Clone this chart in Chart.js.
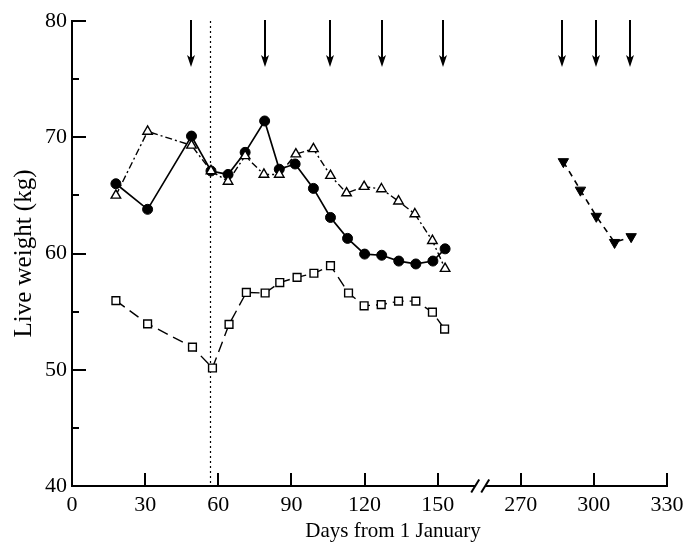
<!DOCTYPE html>
<html>
<head>
<meta charset="utf-8">
<script src="https://cdn.jsdelivr.net/npm/chart.js@4.4.1/dist/chart.umd.min.js"></script>
<style>
    body { margin: 0; background: #fff; }
</style>
</head>
<body>
<canvas id="chartCanvas" width="691" height="548"></canvas>
<script>
// days from 1 January and live weight (kg)
const circleDays = [18, 31, 49, 57, 64, 71, 79, 85, 91.5, 99, 106, 113, 120, 127, 134, 141, 148, 153];
const circleWeights = [66.0, 63.8, 70.1, 67.1, 66.8, 68.7, 71.4, 67.25, 67.7, 65.6, 63.1, 61.3, 59.95, 59.85, 59.35, 59.1, 59.35, 60.4];

const triangleDays = [18, 31, 49, 57, 64, 71, 78.7, 85, 91.8, 99, 106, 112.6, 119.8, 126.9, 133.9, 140.6, 147.8, 153];
const triangleWeights = [65.0, 70.5, 69.3, 67.1, 66.2, 68.4, 66.8, 66.8, 68.55, 69.0, 66.7, 65.2, 65.75, 65.55, 64.5, 63.4, 61.1, 58.7];

const squareDays = [18, 31, 49.4, 57.6, 64.4, 71.5, 79.2, 85.2, 92.3, 99.2, 106, 113.4, 119.8, 126.8, 133.9, 141, 147.8, 152.8];
const squareWeights = [55.95, 53.95, 51.95, 50.15, 53.9, 56.65, 56.6, 57.5, 57.95, 58.3, 58.95, 56.6, 55.5, 55.6, 55.9, 55.9, 54.95, 53.5];

const autumnDays = [287.5, 294.5, 301, 308.5, 315.3];
const autumnWeights = [67.9, 65.45, 63.2, 60.95, 61.45];

const arrowDays = [49, 79, 106, 127, 152, 287, 301, 315];
const dottedDay = 56.5;
const xTickDays = [0, 30, 60, 90, 120, 150, 270, 300, 330];

// axis is broken between 150 and 270
const GAP_SHIFT = 86;
const BREAK_AT = 167.4;

function axisX(d) {
    return d > 200 ? d - GAP_SHIFT : d;
}

function points(days, weights) {
    return days.map((d, i) => ({ x: axisX(d), y: weights[i] }));
}

const FONT = "'Liberation Serif', 'Times New Roman', serif";

const extras = {
    id: 'extras',
    beforeDatasetsDraw(chart) {
        const ctx = chart.ctx;
        const x = chart.scales.x;
        const area = chart.chartArea;
        const px = Math.round(x.getPixelForValue(dottedDay)) + 0.5;
        ctx.save();
        ctx.strokeStyle = '#000';
        ctx.lineWidth = 1.2;
        ctx.setLineDash([2, 3]);
        ctx.beginPath();
        ctx.moveTo(px, area.top);
        ctx.lineTo(px, area.bottom);
        ctx.stroke();
        ctx.restore();
    },
    afterDraw(chart) {
        const ctx = chart.ctx;
        const x = chart.scales.x;
        const y = chart.scales.y;
        const area = chart.chartArea;
        ctx.save();
        ctx.strokeStyle = '#000';
        ctx.fillStyle = '#000';
        ctx.lineWidth = 2;

        // inward ticks on the y axis
        for (let v = 45; v <= 80; v += 5) {
            const py = Math.round(y.getPixelForValue(v));
            const len = v % 10 === 0 ? 14 : 7;
            ctx.beginPath();
            ctx.moveTo(area.left, py);
            ctx.lineTo(area.left + len, py);
            ctx.stroke();
        }

        // inward ticks on the x axis
        xTickDays.slice(1).forEach(d => {
            const pxx = Math.round(x.getPixelForValue(axisX(d)));
            ctx.beginPath();
            ctx.moveTo(pxx, area.bottom);
            ctx.lineTo(pxx, area.bottom - 13);
            ctx.stroke();
        });

        // axis break
        const b = x.getPixelForValue(BREAK_AT);
        const by = area.bottom;
        ctx.fillStyle = '#fff';
        ctx.fillRect(b - 5, by - 3, 10, 6);
        ctx.fillStyle = '#000';
        [b - 5, b + 5].forEach(cx => {
            ctx.beginPath();
            ctx.moveTo(cx - 4, by + 6.5);
            ctx.lineTo(cx + 4, by - 6.5);
            ctx.stroke();
        });

        // arrows at the top
        const top = y.getPixelForValue(80) - 1;
        const tip = y.getPixelForValue(76.05);
        arrowDays.forEach(d => {
            const ax = Math.round(x.getPixelForValue(axisX(d)));
            ctx.lineWidth = 2;
            ctx.beginPath();
            ctx.moveTo(ax, top);
            ctx.lineTo(ax, tip - 6);
            ctx.stroke();
            ctx.beginPath();
            ctx.moveTo(ax, tip);
            ctx.lineTo(ax - 4, tip - 12);
            ctx.lineTo(ax, tip - 9);
            ctx.lineTo(ax + 4, tip - 12);
            ctx.closePath();
            ctx.fill();
        });

        // x axis title
        ctx.font = '21px ' + FONT;
        ctx.textAlign = 'center';
        ctx.textBaseline = 'alphabetic';
        ctx.fillText('Days from 1 January', 393, 537);
        ctx.restore();
    }
};

const ctx = document.getElementById('chartCanvas').getContext('2d');
const chart = new Chart(ctx, {
    type: 'scatter',
    data: {
        datasets: [
            {
                data: points(triangleDays, triangleWeights),
                showLine: true,
                borderColor: '#000',
                borderWidth: 1.4,
                borderDash: [7, 3, 2, 3],
                pointStyle: 'triangle',
                pointRadius: 5.5,
                pointBackgroundColor: '#fff',
                pointBorderColor: '#000',
                pointBorderWidth: 1.4
            },
            {
                data: points(circleDays, circleWeights),
                showLine: true,
                borderColor: '#000',
                borderWidth: 1.7,
                pointStyle: 'circle',
                pointRadius: 5,
                pointBackgroundColor: '#000',
                pointBorderColor: '#000',
                pointBorderWidth: 1
            },
            {
                data: points(squareDays, squareWeights),
                showLine: true,
                borderColor: '#000',
                borderWidth: 1.4,
                borderDash: [11, 6],
                pointStyle: 'rect',
                pointRadius: 5.5,
                pointBackgroundColor: '#fff',
                pointBorderColor: '#000',
                pointBorderWidth: 1.4
            },
            {
                data: points(autumnDays, autumnWeights),
                showLine: true,
                borderColor: '#000',
                borderWidth: 1.6,
                borderDash: [6, 5],
                pointStyle: 'triangle',
                rotation: 180,
                pointRadius: 6,
                pointBackgroundColor: '#000',
                pointBorderColor: '#000',
                pointBorderWidth: 1
            }
        ]
    },
    options: {
        responsive: false,
        animation: false,
        layout: {
            padding: { top: 21, right: 24, left: 0, bottom: 0 }
        },
        plugins: {
            legend: { display: false },
            tooltip: { enabled: false }
        },
        scales: {
            x: {
                type: 'linear',
                min: 0,
                max: axisX(330),
                afterBuildTicks: axis => {
                    axis.ticks = xTickDays.map(d => ({ value: axisX(d) }));
                },
                afterFit: axis => {
                    axis.height = 62;
                },
                grid: { display: false, drawTicks: false },
                border: { display: true, color: '#000', width: 2 },
                ticks: {
                    color: '#000',
                    padding: 6,
                    maxRotation: 0,
                    autoSkip: false,
                    font: { family: FONT, size: 22 },
                    callback: value => {
                        const d = xTickDays.find(t => axisX(t) === value);
                        return d === undefined ? '' : String(d);
                    }
                }
            },
            y: {
                min: 40,
                max: 80,
                afterFit: axis => {
                    axis.width = 72;
                },
                grid: { display: false, drawTicks: false },
                border: { display: true, color: '#000', width: 2 },
                ticks: {
                    color: '#000',
                    stepSize: 10,
                    padding: 5,
                    font: { family: FONT, size: 22 }
                },
                title: {
                    display: true,
                    text: 'Live weight (kg)',
                    color: '#000',
                    padding: { top: 9, bottom: 0 },
                    font: { family: FONT, size: 25 }
                }
            }
        }
    },
    plugins: [extras]
});
</script>
</body>
</html>
